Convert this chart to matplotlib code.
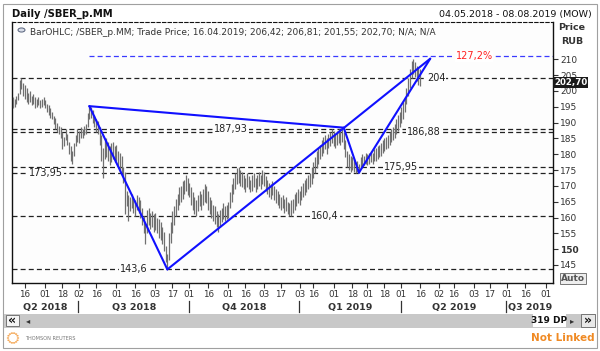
import numpy as np
import pandas as pd
import matplotlib
matplotlib.use("Agg")
import matplotlib.pyplot as plt
from matplotlib.patches import Rectangle, Circle
import matplotlib.transforms as mtransforms

# MOEX trading calendar for the displayed range
start, end = "2018-05-04", "2019-08-08"
holidays = ["2018-05-09", "2018-06-12", "2018-11-05", "2018-12-31",
            "2019-01-01", "2019-01-02", "2019-01-07", "2019-03-08",
            "2019-05-01", "2019-05-09", "2019-06-12"]
extra_days = ["2018-12-29"]

# daily highs / lows of SBER_p, 04.05.2018 .. 16.04.2019
highs = [
    198.0, 197.5, 198.5, 199.5, 203.5, 204.0, 202.5,
    202.0, 201.0, 199.5, 200.0, 198.5, 199.0,
    198.0, 197.5, 198.0, 197.0, 197.5, 198.0, 197.0,
    196.0, 195.5, 194.5, 193.5, 192.0,
    191.5, 190.0, 189.0, 188.5,
    187.0, 185.5, 188.0,
    186.5, 184.0, 182.5, 181.0,
    183.5, 186.0, 188.0, 187.5, 188.5,
    188.0, 189.0, 189.5,
    193.0, 195.5, 195.0,
    194.0, 192.5, 191.0, 190.5,
    188.5, 186.0, 182.0, 184.5,
    185.0, 184.0, 182.5, 183.5, 184.0,
    182.5, 183.0, 181.0, 180.5, 179.5,
    176.0, 174.5, 168.5,
    167.0, 166.5, 167.5, 166.0, 165.5, 167.0, 166.5, 165.5,
    163.0, 160.5, 158.0,
    162.5, 163.0, 161.5, 162.0, 161.0,
    161.5, 160.0, 159.5, 158.5, 157.0,
    155.5, 151.0, 148.5,
    155.0, 158.5, 162.0, 163.5,
    166.0, 167.5, 169.5, 170.0,
    171.5, 172.0, 173.5, 172.5,
    171.0, 169.5, 168.0, 166.5, 165.5,
    167.0, 168.5, 167.5, 169.0,
    170.5, 170.0, 168.5, 166.5,
    165.5, 164.0, 163.5, 162.0, 161.0,
    162.5, 163.0, 164.5, 163.5, 164.0, 165.0,
    168.0, 170.5, 172.5, 174.0,
    175.5, 176.1, 175.0, 174.5,
    173.5, 172.5, 174.0, 173.0, 172.0,
    173.5, 174.0, 172.5, 173.5,
    174.5, 173.5, 175.0, 174.5, 173.0,
    172.0, 171.0, 170.5, 171.5, 170.0, 169.0,
    168.5, 167.5, 166.5, 167.0,
    166.0, 166.5, 165.0, 164.5, 165.5,
    166.0, 167.5, 168.0, 169.0, 168.5,
    170.0, 171.0, 172.0, 172.5, 173.5, 174.0,
    176.0, 177.5, 179.0, 181.0,
    182.0, 183.0, 184.5, 185.5, 186.0, 185.0,
    186.5, 187.0, 188.0, 187.5,
    186.5, 187.5, 188.0, 187.5, 188.4,
    187.0, 184.5, 181.0, 180.0, 179.5,
    179.0, 178.5, 177.5, 178.0, 177.0,
    179.0, 180.0, 179.5, 180.5, 180.0,
    180.5, 181.0, 180.5, 181.5, 182.0, 182.5,
    183.0, 183.5, 184.5, 185.0,
    185.5, 186.0, 187.0, 188.0, 188.5,
    189.5, 191.0, 192.5, 193.5, 195.0,
    196.5, 198.0, 201.0, 204.0,
    207.0, 209.5, 210.0, 209.0,
    208.0, 207.5, 206.81,
]
lows = [
    194.5, 195.0, 196.0, 197.0, 199.0, 200.5, 198.5,
    197.5, 196.5, 196.0, 196.5, 195.5, 196.0,
    194.5, 195.0, 195.5, 194.5, 195.0, 195.5, 194.5,
    193.5, 192.5, 191.5, 191.0, 189.5,
    188.0, 187.0, 186.5, 185.0,
    181.5, 182.5, 184.5,
    183.0, 180.0, 178.0, 177.0,
    179.5, 182.5, 184.0, 183.5, 185.0,
    185.0, 186.0, 186.5,
    188.5, 191.0, 191.5,
    190.0, 188.5, 187.0, 186.5,
    183.0, 178.0, 172.5, 178.5,
    179.0, 178.0, 176.5, 177.5, 178.5,
    177.5, 178.0, 176.0, 174.5, 174.0,
    171.0, 161.0, 163.5,
    159.0, 162.0, 163.0, 161.5, 160.5, 162.5, 161.5, 160.0,
    157.5, 155.0, 151.5,
    155.0, 157.5, 156.5, 157.0, 155.5,
    156.0, 155.0, 153.5, 153.0, 151.5,
    149.5, 146.0, 143.6,
    146.5, 152.0, 155.0, 157.5,
    160.5, 162.5, 164.0, 165.0,
    166.0, 167.5, 168.5, 167.0,
    166.5, 164.0, 162.5, 161.0, 160.5,
    162.0, 163.5, 162.5, 164.0,
    165.0, 164.5, 162.5, 161.0,
    160.0, 159.0, 158.0, 157.0, 155.5,
    157.0, 158.5, 159.5, 159.0, 159.5, 160.0,
    163.0, 165.0, 167.5, 169.0,
    170.5, 171.0, 170.0, 169.5,
    169.0, 168.0, 169.5, 169.0, 168.0,
    168.5, 169.5, 168.0, 169.0,
    170.0, 169.0, 170.5, 170.0, 168.5,
    167.5, 166.5, 166.0, 167.0, 165.5, 164.5,
    164.0, 163.0, 162.5, 163.0,
    161.5, 162.0, 161.0, 160.5, 160.4,
    161.5, 162.5, 163.5, 164.5, 164.0,
    165.5, 166.5, 167.0, 168.0, 169.0, 169.5,
    170.5, 172.5, 174.0, 175.5,
    177.0, 178.5, 179.5, 180.5, 181.5, 180.0,
    182.0, 182.5, 183.5, 182.5,
    182.0, 183.0, 183.5, 183.0, 184.0,
    181.5, 179.0, 176.0, 175.0, 174.5,
    175.0, 174.5, 174.0, 174.5, 174.0,
    175.5, 176.0, 176.5, 177.0, 176.5,
    177.0, 177.5, 177.0, 178.0, 178.0, 178.5,
    179.0, 179.5, 180.5, 181.0,
    181.5, 182.0, 183.0, 184.0, 184.5,
    185.0, 186.5, 187.5, 188.5, 190.0,
    191.0, 193.5, 196.0, 198.5,
    201.0, 204.0, 205.5, 204.5,
    203.0, 202.0, 201.55,
]
last_price = 202.70

# horizontal support / resistance levels
levels = [204.0, 187.93, 186.88, 175.95, 173.95, 160.4, 143.6]
level_labels = ["204", "187,93", "186,88", "175,95", "173,95", "160,4", "143,6"]

# harmonic pattern points (bar number, price): A, B, C, D, E
pattern_bar = [45, 91, 195, 204, 246]
pattern_price = [195.2, 143.6, 188.4, 174.2, 210.2]
pattern_legs = [(0, 1), (0, 2), (1, 4), (2, 3), (3, 4)]
fib_level = 211.0
fib_label = "127,2%"

# ---- trading days
days = pd.bdate_range(start, end)
days = days[~days.isin(pd.to_datetime(holidays))]
days = days.union(pd.to_datetime(extra_days))
n = len(highs)
idx = np.arange(n)

W, H = 600, 351
fig = plt.figure(figsize=(W / 100, H / 100), dpi=100)
fig.patch.set_facecolor("white")
plt.rcParams["font.family"] = "DejaVu Sans"


def fx(x):
    return x / W


def fy(y):
    return 1 - y / H


ax = fig.add_axes([fx(12), fy(283), (553 - 12) / W, (283 - 22) / H])
ax.set_facecolor("#fdfdfd")
ax.set_xlim(-0.6, 318.4)
ax.set_ylim(139.3, 221.8)

# OHLC bars
ax.vlines(idx, lows, highs, color="#707070", lw=0.9, zorder=3)

# levels
for lv, lab, xpos in zip(levels, level_labels, [249.5, 128.5, 242, 229, 19.5, 184, 71]):
    ax.axhline(lv, color="#222222", lw=0.9, ls=(0, (4, 2.5)), zorder=2)
    ax.text(xpos, lv, lab, fontsize=7, ha="center", va="center", color="#222222",
            zorder=4, bbox=dict(facecolor="#fdfdfd", edgecolor="none", pad=0.6))

# fib extension line
ax.plot([pattern_bar[0], 318.4], [fib_level, fib_level], color="#3a3aff", lw=0.9,
        ls=(0, (4, 2.5)))
ax.text(272, fib_level, fib_label, fontsize=7, ha="center", va="center", color="#ff2020",
        bbox=dict(facecolor="white", edgecolor="none", pad=0.4))

# pattern legs
for a, b in pattern_legs:
    ax.plot([pattern_bar[a], pattern_bar[b]], [pattern_price[a], pattern_price[b]],
            color="#1010ff", lw=1.5, solid_capstyle="round", zorder=5)

# frame
for s in ["left", "bottom", "right"]:
    ax.spines[s].set_color("#111111")
    ax.spines[s].set_linewidth(1.0)
ax.spines["top"].set_linestyle((0, (3, 2)))
ax.spines["top"].set_color("#111111")

# right price axis
ax.yaxis.tick_right()
yt = list(range(145, 211, 5))
ax.set_yticks(yt, labels=[str(t) for t in yt])
ax.tick_params(axis="y", length=3.5, width=0.8, color="#333333", labelsize=6.5,
               labelcolor="#333333", pad=1.5)
for t in ax.get_yticklabels():
    if t.get_text() == "150":
        t.set_fontweight("bold")

# date ticks: first trading day on/after the 1st and the 16th
tick_pos, tick_lab = [], []
for m in pd.period_range("2018-05", "2019-08", freq="M"):
    for d in (1, 16):
        target = pd.Timestamp(m.year, m.month, d)
        if target < days[0] or target > days[-1]:
            continue
        k = days.searchsorted(target)
        tick_pos.append(k)
        tick_lab.append(days[k].strftime("%d"))
ax.set_xticks(tick_pos, labels=tick_lab)
ax.tick_params(axis="x", length=3.5, width=0.8, color="#333333", labelsize=6.3,
               labelcolor="#333333", pad=1.5)

# quarters
xtr = ax.get_xaxis_transform()
q_starts = []
for q in pd.period_range("2018Q3", "2019Q3", freq="Q"):
    q_starts.append(days.searchsorted(q.start_time))
bounds = [-0.6] + q_starts + [318.4]
q_names = ["Q2 2018", "Q3 2018", "Q4 2018", "Q1 2019", "Q2 2019", "Q3 2019"]
for i, name in enumerate(q_names):
    ax.text((bounds[i] + bounds[i + 1]) / 2, -0.092, name, transform=xtr, fontsize=6.8,
            fontweight="bold", ha="center", va="center", color="#333333")
for qs in q_starts:
    ax.plot([qs - 0.5, qs - 0.5], [-0.068, -0.112], transform=xtr, color="#333333",
            lw=0.9, clip_on=False)

# legend line inside plot
ax.text(0.033, 0.96, "BarOHLC; /SBER_p.MM; Trade Price; 16.04.2019; 206,42; 206,81; "
        "201,55; 202,70; N/A; N/A", transform=ax.transAxes, fontsize=6.5, color="#333333",
        ha="left", va="center")
fig.add_artist(Circle((fx(21.5), fy(30)), 3.5 / W, transform=fig.transFigure,
                      facecolor="#d8dde8", edgecolor="#55607a", lw=0.7))

# last price box
btr = mtransforms.blended_transform_factory(ax.transAxes, ax.transData)
ax.text(1.002, last_price, "202,70", transform=btr, fontsize=6.2, fontweight="bold",
        color="white", ha="left", va="center", zorder=6,
        bbox=dict(facecolor="#1a1a1a", edgecolor="none", pad=0.5))

# header
fig.text(fx(12), fy(14), "Daily /SBER_p.MM", fontsize=7.2, fontweight="bold",
         ha="left", va="center", color="#111111")
fig.text(fx(592), fy(14), "04.05.2018 - 08.08.2019 (MOW)", fontsize=6.8,
         ha="right", va="center", color="#111111")
fig.text(fx(572), fy(28), "Price", fontsize=6.8, fontweight="bold", ha="center",
         va="center", color="#333333")
fig.text(fx(572), fy(42), "RUB", fontsize=6.8, fontweight="bold", ha="center",
         va="center", color="#333333")

# window border
fig.add_artist(Rectangle((fx(3), fy(348)), 594 / W, 344 / H, transform=fig.transFigure,
                         facecolor="none", edgecolor="#a0a0a0", lw=0.8))

# Auto button
fig.add_artist(Rectangle((fx(560), fy(284)), 26 / W, 11 / H, transform=fig.transFigure,
                         facecolor="#eeeeee", edgecolor="#777777", lw=0.7))
fig.text(fx(573), fy(278.5), "Auto", fontsize=6.5, fontweight="bold", ha="center",
         va="center", color="#555555")

# scrollbar
fig.add_artist(Rectangle((fx(4), fy(328)), 592 / W, 14 / H, transform=fig.transFigure,
                         facecolor="#c8c8c8", edgecolor="none"))
fig.add_artist(Rectangle((fx(6), fy(326)), 13 / W, 11 / H, transform=fig.transFigure,
                         facecolor="#f4f4f4", edgecolor="#666666", lw=0.6))
fig.text(fx(12.5), fy(320.5), "«", fontsize=9, fontweight="bold", ha="center",
         va="center", color="#111111")
fig.text(fx(28), fy(320.5), "◂", fontsize=6, ha="center", va="center", color="#333333")
fig.add_artist(Rectangle((fx(533), fy(327)), 33 / W, 13 / H, transform=fig.transFigure,
                         facecolor="white", edgecolor="none"))
fig.text(fx(549), fy(320.5), "319 DP", fontsize=6.5, fontweight="bold", ha="center",
         va="center", color="#111111")
fig.text(fx(572), fy(320.5), "▸", fontsize=6, ha="center", va="center", color="#333333")
fig.add_artist(Rectangle((fx(581), fy(327)), 14 / W, 13 / H, transform=fig.transFigure,
                         facecolor="#e8e8e8", edgecolor="#666666", lw=0.6))
fig.text(fx(588), fy(320.5), "»", fontsize=9, fontweight="bold", ha="center",
         va="center", color="#111111")

# footer
for a in np.linspace(0, 2 * np.pi, 14, endpoint=False):
    fig.add_artist(Circle((fx(13 + 5 * np.cos(a)), fy(338 + 5 * np.sin(a))), 1.2 / W,
                          transform=fig.transFigure, facecolor="#f39a3b",
                          edgecolor="none"))
fig.text(fx(25), fy(339), "THOMSON REUTERS", fontsize=3.6, ha="left", va="center",
         color="#777777")
fig.text(fx(595), fy(338), "Not Linked", fontsize=7.5, fontweight="bold", ha="right",
         va="center", color="#f08a24")

fig.savefig("out.png", dpi=100, facecolor=fig.get_facecolor())
